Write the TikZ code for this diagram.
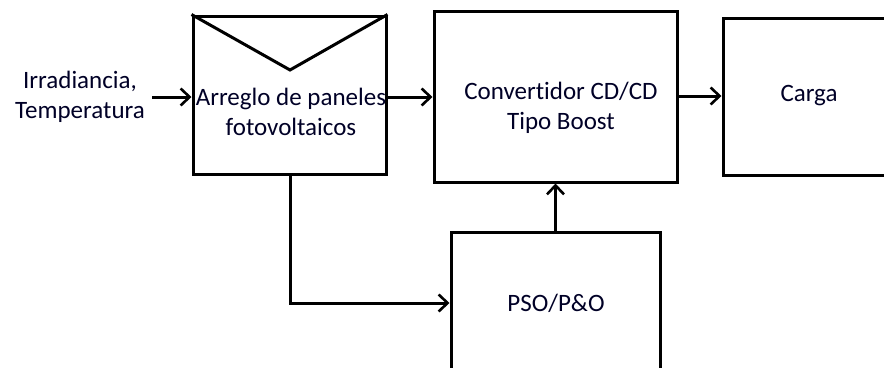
\documentclass[tikz,border=0pt]{standalone}
\usepackage{fontspec}
\setmainfont[Ligatures={NoCommon}]{Carlito}
\usetikzlibrary{arrows.meta}
\begin{document}
\begin{tikzpicture}[x=1pt,y=-1pt,
  blk/.style={draw=black, line width=3pt, rectangle, inner sep=0pt},
  txt/.style={font=\fontsize{25}{30}\selectfont, text=black!85!blue, align=center, inner sep=0pt},
  conn/.style={line width=3pt, -{Straight Barb[length=9pt,width=17pt,line width=2.6pt]}}]
\useasboundingbox (0,0) rectangle (884,367);
\node[blk, minimum width=193pt, minimum height=158pt] (pv) at (289.5,95) {};
\node[blk, minimum width=243pt, minimum height=171pt] (conv) at (555.5,96.5) {};
\node[blk, minimum width=172pt, minimum height=157pt] (carga) at (809,96.5) {};
\node[blk, minimum width=209pt, minimum height=142pt] (pso) at (555.5,303) {};
\draw[line width=3pt, line join=miter] (pv.north west) -- (290,70) coordinate (vtip) -- (pv.north east);
\node[txt] (pvt) at (291,112) {Arreglo de paneles\\fotovoltaicos};
\node[txt] (convt) at (561,108) {Convertidor CD/CD\\Tipo Boost};
\node[txt] (cargat) at (809,96) {Carga};
\node[txt] (psot) at (556,303) {PSO/P\&O};
\node[txt] (int) at (80,97) {Irradiancia,\\Temperatura};
\coordinate (in) at (152,97);
\draw[conn] (in) -- (pv.west |- in);
\draw[conn] (pv.east |- in) -- (conv.west |- in);
\draw[conn] (conv.east |- 0,96) -- (carga.west |- 0,96);
\draw[conn] (pso.north) -- (conv.south);
\draw[conn] (pv.south -| 290,0) |- (pso.west);
\end{tikzpicture}
\end{document}
